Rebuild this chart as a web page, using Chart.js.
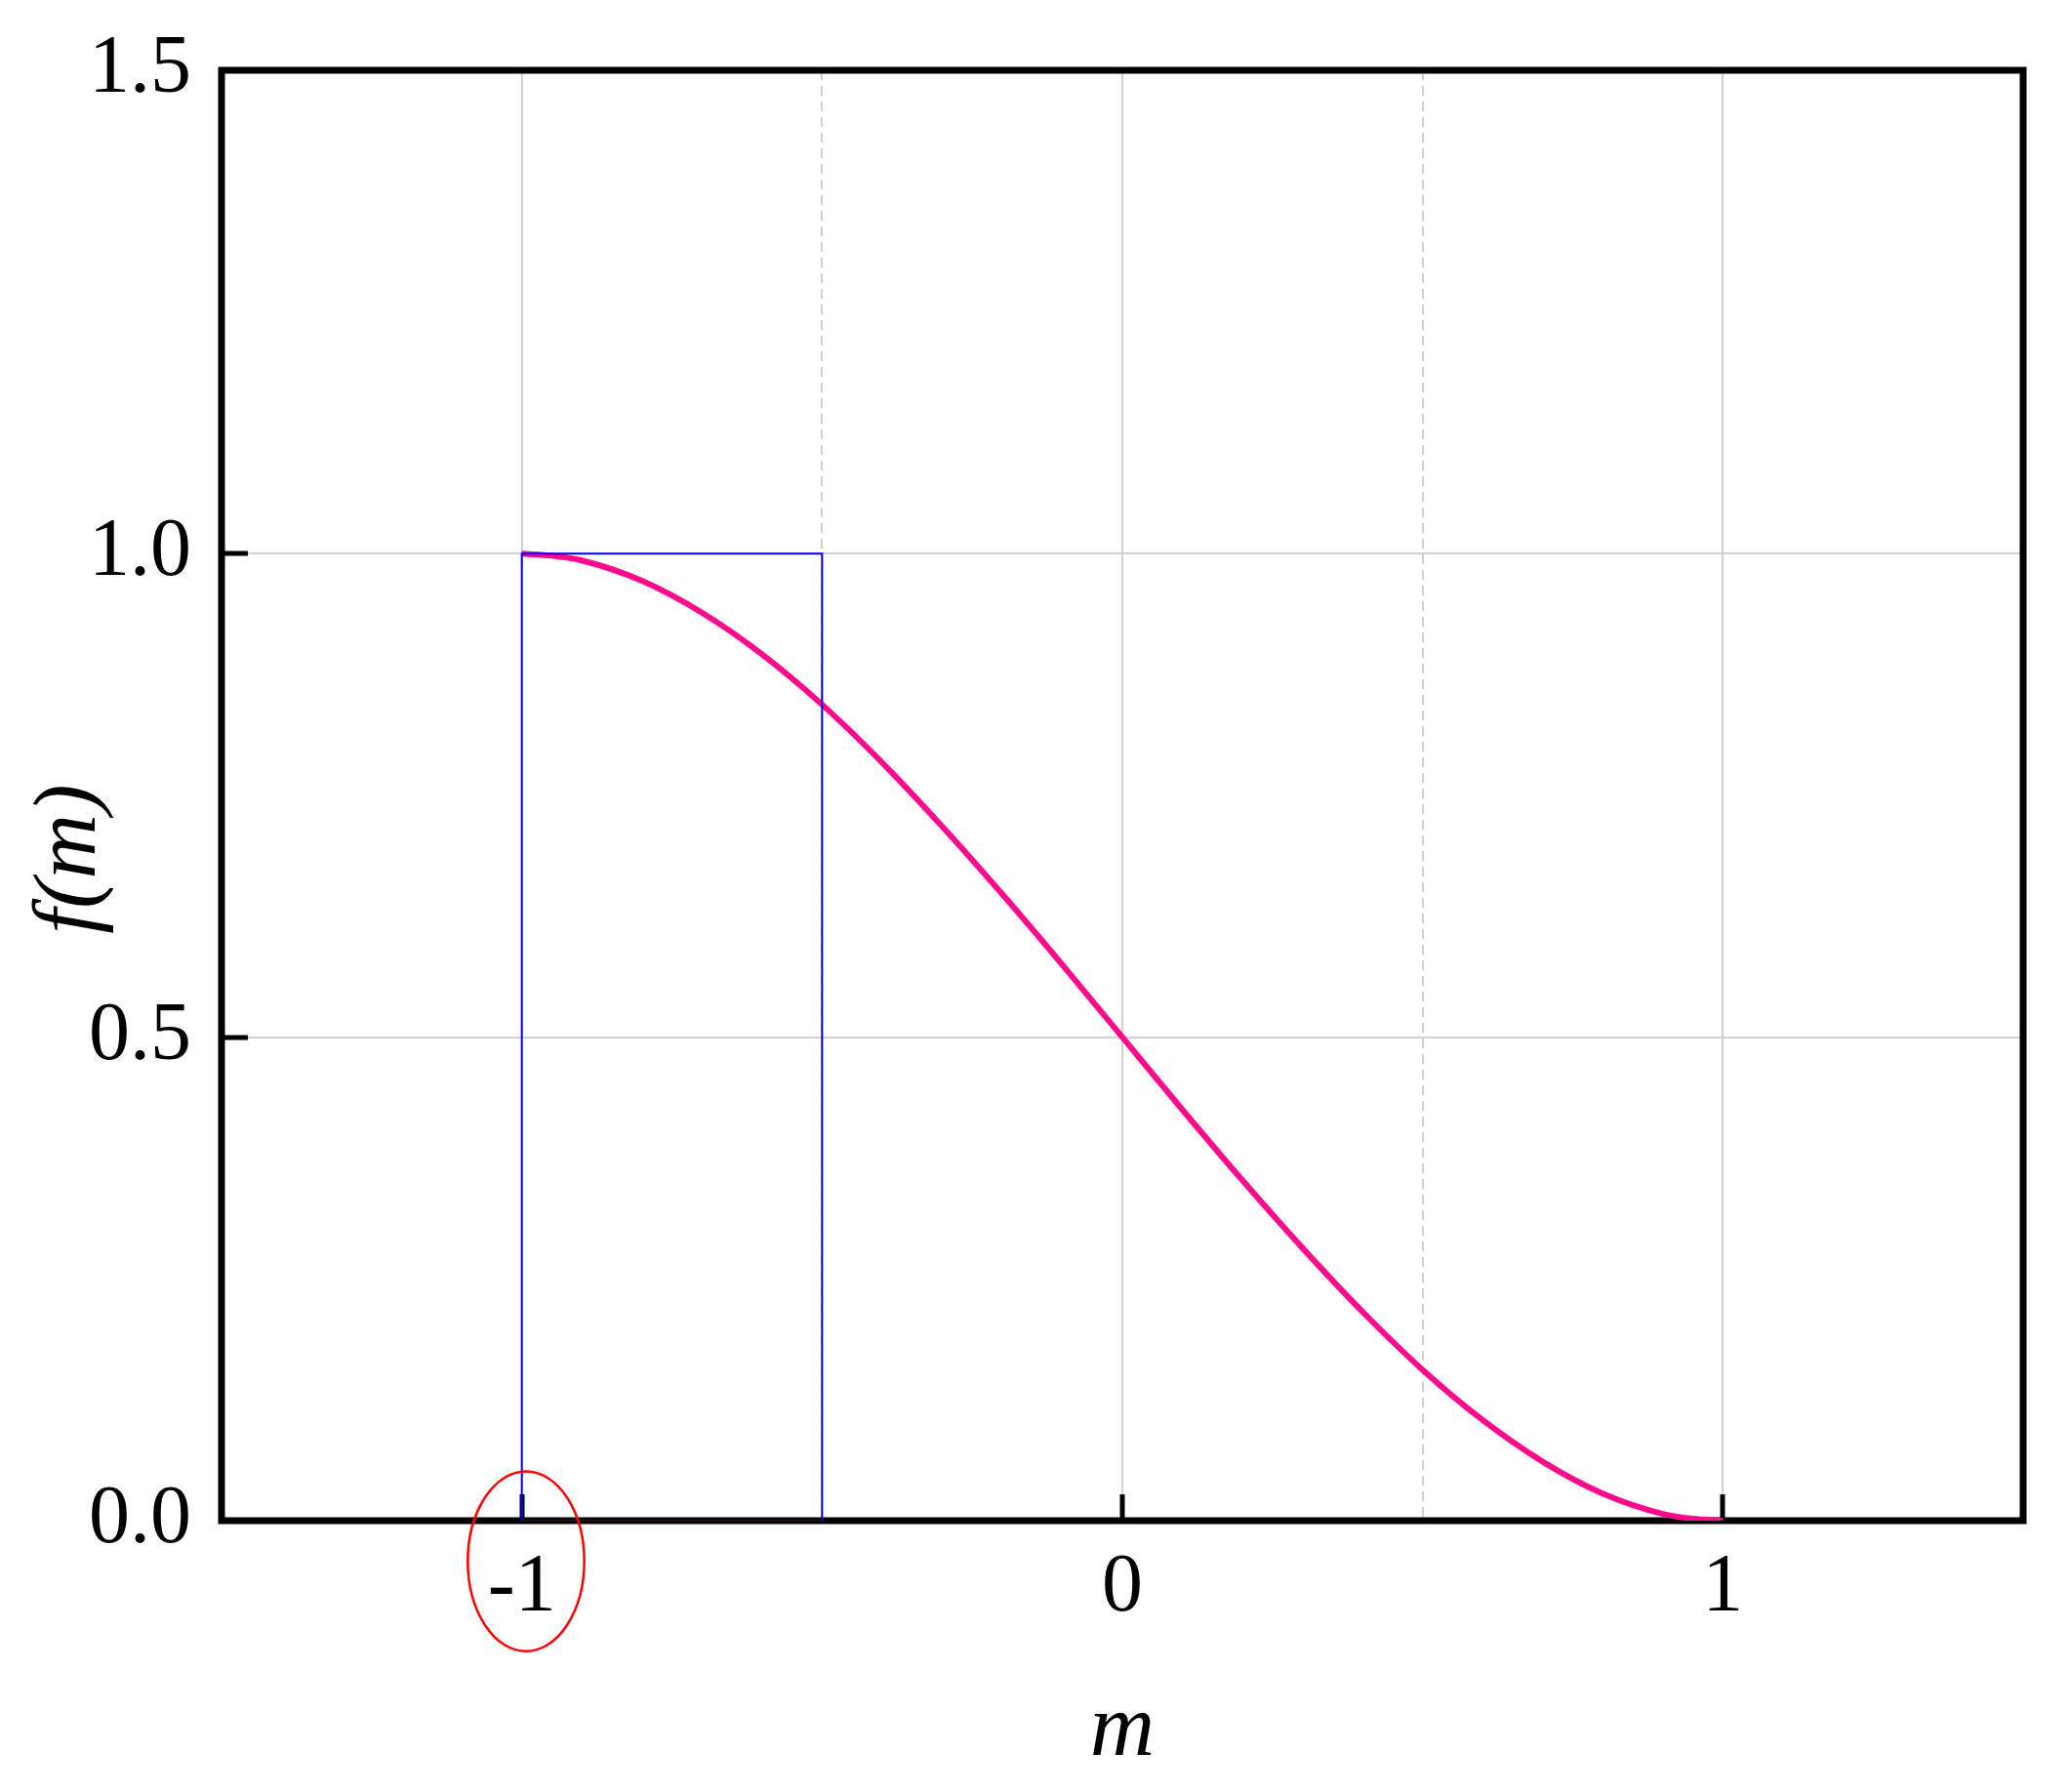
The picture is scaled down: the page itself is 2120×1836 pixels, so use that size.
<!DOCTYPE html>
<html>
<head>
<meta charset="utf-8">
<script src="https://cdn.jsdelivr.net/npm/chart.js@4.4.1/dist/chart.umd.min.js"></script>
<style>
  html, body { margin: 0; padding: 0; background: #ffffff; }
  #wrap { width: 2120px; height: 1836px; }
</style>
</head>
<body>
<div id="wrap"><canvas id="c" width="2120" height="1836"></canvas></div>
<script>
// ---- data ----
const curveM = [-1.0, -0.95, -0.9, -0.8, -0.7, -0.6, -0.5, -0.4, -0.3, -0.2, -0.1, 0.0,
                 0.1,  0.2,  0.3,  0.4,  0.5,  0.6,  0.7,  0.8,  0.9, 0.95, 1.0];
const curveF = [1.000, 0.998, 0.993, 0.972, 0.939, 0.896, 0.844, 0.784, 0.718, 0.648, 0.575, 0.500,
                0.425, 0.352, 0.282, 0.216, 0.156, 0.104, 0.061, 0.028, 0.007, 0.002, 0.000];
const rectM = [-1.0, -1.0, -0.5, -0.5, -1.0];
const rectF = [0.0, 1.0, 1.0, 0.0, 0.0];
const xTickValues = [-1, -0.5, 0, 0.5, 1];
const xLabelValues = [-1, 0, 1];
const yTickValues = [0, 0.5, 1.0, 1.5];
const xLabel = 'm';
const yLabel = 'f(m)';
// highlight ellipse around the "-1" tick label (data units)
const ellipseCenter = { m: -0.993, f: -0.042 };
const ellipseRadius = { m: 0.097, f: 0.093 };

const serif = "'Liberation Serif', 'Times New Roman', serif";

const framePlugin = {
  id: 'frame',
  beforeDatasetsDraw(chart) {
    const { ctx, chartArea: a, scales } = chart;
    ctx.save();
    // inward ticks
    ctx.strokeStyle = '#000';
    ctx.lineWidth = 5;
    ctx.beginPath();
    xLabelValues.forEach(v => {
      const px = Math.round(scales.x.getPixelForValue(v));
      ctx.moveTo(px, a.bottom);
      ctx.lineTo(px, a.bottom - 27);
    });
    yTickValues.forEach(v => {
      const py = Math.round(scales.y.getPixelForValue(v));
      ctx.moveTo(a.left, py);
      ctx.lineTo(a.left + 27, py);
    });
    ctx.stroke();
    // frame
    ctx.lineWidth = 7;
    ctx.lineJoin = 'miter';
    ctx.strokeRect(a.left, a.top, a.right - a.left, a.bottom - a.top);
    ctx.restore();
  },
  afterDatasetsDraw(chart) {
    const { ctx, chartArea: a, scales } = chart;
    ctx.save();
    // red ellipse annotation
    const cx = scales.x.getPixelForValue(ellipseCenter.m);
    const cy = scales.y.getPixelForValue(ellipseCenter.f);
    const rx = Math.abs(scales.x.getPixelForValue(ellipseCenter.m + ellipseRadius.m) - cx);
    const ry = Math.abs(scales.y.getPixelForValue(ellipseCenter.f + ellipseRadius.f) - cy);
    ctx.strokeStyle = '#ff0000';
    ctx.lineWidth = 2.5;
    ctx.beginPath();
    ctx.ellipse(cx, cy, rx, ry, 0, 0, Math.PI * 2);
    ctx.stroke();
    // y axis title
    ctx.fillStyle = '#000';
    ctx.font = "italic 92px " + serif;
    ctx.textAlign = 'center';
    ctx.textBaseline = 'alphabetic';
    ctx.translate(97, (a.top + a.bottom) / 2 + 65);
    ctx.rotate(-Math.PI / 2);
    ctx.fillText(yLabel, 0, 0);
    ctx.restore();
  }
};

new Chart(document.getElementById('c'), {
  type: 'line',
  data: {
    datasets: [
      {
        label: 'f(m)',
        data: curveM.map((m, i) => ({ x: m, y: curveF[i] })),
        borderColor: '#ff0a8c',
        borderWidth: 6,
        pointRadius: 0,
        fill: false,
        cubicInterpolationMode: 'monotone',
        order: 2
      },
      {
        label: 'box',
        data: rectM.map((m, i) => ({ x: m, y: rectF[i] })),
        borderColor: '#0000ff',
        borderWidth: 2,
        pointRadius: 0,
        fill: false,
        tension: 0,
        order: 1
      }
    ]
  },
  options: {
    responsive: false,
    devicePixelRatio: 1,
    animation: false,
    events: [],
    layout: { padding: { top: 72, right: 47, left: 0, bottom: 0 } },
    plugins: {
      legend: { display: false },
      tooltip: { enabled: false },
      title: { display: false }
    },
    scales: {
      x: {
        type: 'linear',
        position: 'bottom',
        min: -1.5,
        max: 1.5,
        afterBuildTicks: s => { s.ticks = xTickValues.map(v => ({ value: v })); },
        afterFit: s => { s.height = 1836 - 1558; s.paddingLeft = 0; s.paddingRight = 0; },
        grid: {
          color: '#d0d0d0',
          lineWidth: 2,
          drawTicks: false
        },
        border: {
          display: false,
          dash: ctx => (ctx.tick && Math.abs(ctx.tick.value) === 0.5) ? [10, 6] : []
        },
        ticks: {
          color: '#000',
          font: { family: serif, size: 84 },
          padding: 20,
          maxRotation: 0,
          autoSkip: false,
          callback: v => xLabelValues.includes(v) ? String(v) : ''
        },
        title: {
          display: true,
          text: xLabel,
          color: '#000',
          font: { family: serif, size: 92, style: 'italic' },
          padding: { top: 0, bottom: 7 }
        }
      },
      y: {
        type: 'linear',
        position: 'left',
        min: 0,
        max: 1.5,
        afterBuildTicks: s => { s.ticks = yTickValues.map(v => ({ value: v })); },
        afterFit: s => { s.width = 227; s.paddingTop = 0; s.paddingBottom = 0; },
        grid: {
          color: '#d0d0d0',
          lineWidth: 2,
          drawTicks: false
        },
        border: { display: false },
        ticks: {
          color: '#000',
          font: { family: serif, size: 84 },
          padding: 31,
          callback: v => Number(v).toFixed(1)
        }
      }
    }
  },
  plugins: [framePlugin]
});
</script>
</body>
</html>
